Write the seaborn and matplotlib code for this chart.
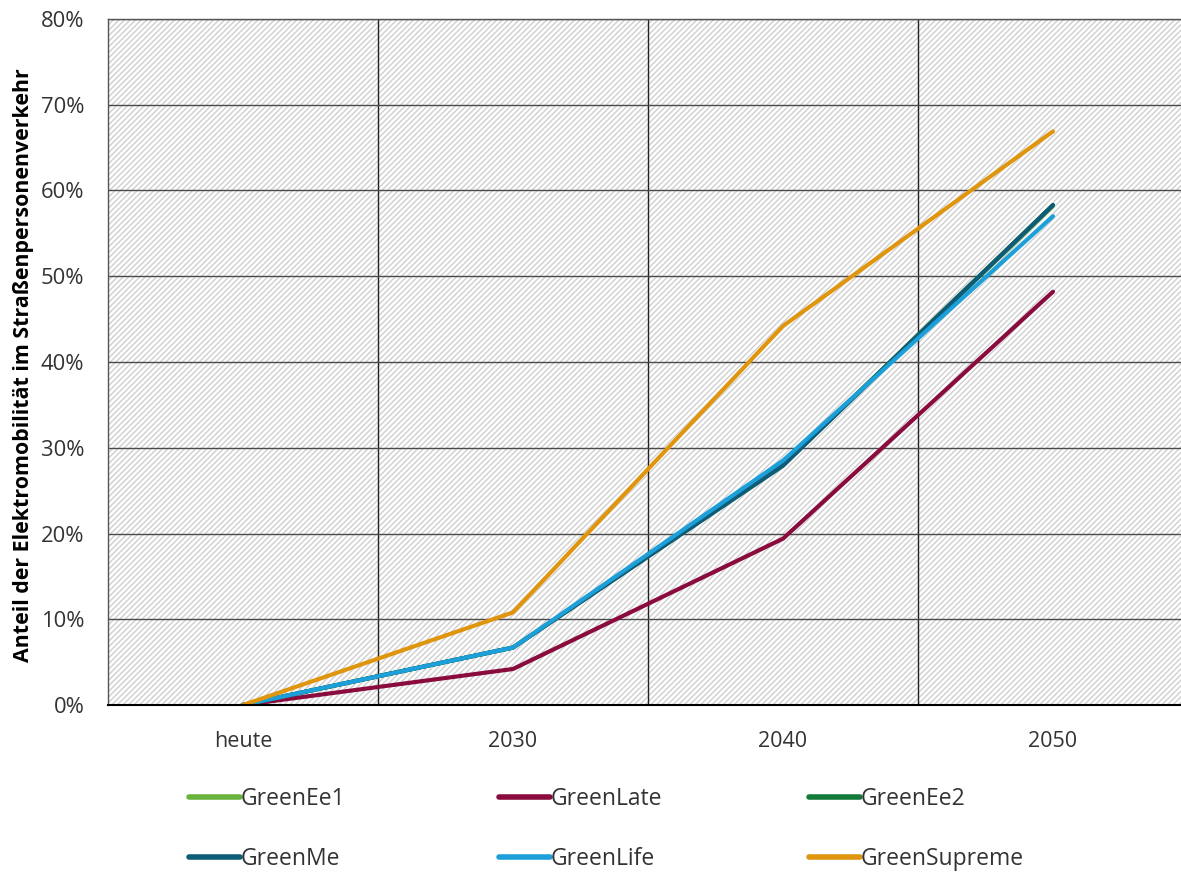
import matplotlib
matplotlib.use("Agg")
import matplotlib.pyplot as plt
from matplotlib.patches import Rectangle
from matplotlib.ticker import PercentFormatter
import seaborn as sns
import pandas as pd

categories = ["heute", "2030", "2040", "2050"]
series_names = ["GreenEe1", "GreenLate", "GreenEe2", "GreenMe", "GreenLife", "GreenSupreme"]
green_ee1 = [0.0, 6.7, 28.0, 58.2]
green_late = [0.0, 4.2, 19.4, 48.2]
green_ee2 = [0.0, 6.7, 28.0, 58.3]
green_me = [0.0, 6.7, 27.9, 58.3]
green_life = [0.0, 6.7, 28.5, 57.0]
green_supreme = [0.0, 10.8, 44.2, 66.9]
colors = ["#6ab43e", "#8a0c3e", "#137a3a", "#0f5c78", "#1d9fd9", "#e0950f"]

values = [green_ee1, green_late, green_ee2, green_me, green_life, green_supreme]
rows = []
for name, vals in zip(series_names, values):
    for c, v in zip(categories, vals):
        rows.append({"Jahr": c, "Szenario": name, "Anteil": v})
df = pd.DataFrame(rows)

sns.set_style("white")
plt.rcParams["font.family"] = ["Open Sans", "DejaVu Sans"]

W, H = 1181, 873
fig = plt.figure(figsize=(W / 100, H / 100), dpi=100)
ax = fig.add_axes([108 / W, 1 - 705 / H, 1080 / W, (705 - 19) / H])

plt.rcParams["hatch.linewidth"] = 1.0
ax.add_patch(Rectangle((0, 0), 1, 1, transform=ax.transAxes, facecolor="white",
                       edgecolor="#cfcfcf", hatch="//////", linewidth=0, zorder=0))

sns.lineplot(data=df, x="Jahr", y="Anteil", hue="Szenario", hue_order=series_names,
             palette=colors, linewidth=3, solid_capstyle="round", ax=ax, sort=False)

ax.set_xlim(-0.5, 3.5)
ax.set_ylim(0, 80)
ax.set_yticks(range(0, 81, 10))
ax.yaxis.set_major_formatter(PercentFormatter(decimals=0))
ax.set_xticks(range(4))
ax.set_xticklabels(categories)
ax.set_xticks([0.5, 1.5, 2.5], minor=True)

ax.grid(axis="y", which="major", color="#4a4a4a", linewidth=1.0, zorder=1)
ax.grid(axis="x", which="minor", color="#222222", linewidth=1.0, zorder=1)
ax.grid(axis="x", which="major", visible=False)
ax.set_axisbelow(True)

ax.tick_params(axis="x", which="major", length=0, pad=19, labelsize=15.5, labelcolor="#333333")
ax.tick_params(axis="x", which="minor", length=9, width=1.2, color="black", direction="out")
ax.tick_params(axis="y", length=0, pad=17, labelsize=15.8, labelcolor="#333333")

ax.spines["right"].set_visible(False)
ax.spines["top"].set_color("#555555")
ax.spines["top"].set_linewidth(1.0)
ax.spines["left"].set_color("#555555")
ax.spines["left"].set_linewidth(1.0)
ax.spines["bottom"].set_color("black")
ax.spines["bottom"].set_linewidth(1.5)

ax.set_xlabel("")
ax.set_ylabel("Anteil der Elektromobilität im Straßenpersonenverkehr", fontsize=15.4,
              fontweight="bold", color="black")
ax.yaxis.set_label_coords((34 - 108) / 1080, (705 - 365) / 686)

handles, labels = ax.get_legend_handles_labels()
ax.get_legend().remove()
col_x = [180, 490, 800]
for ci in range(3):
    idx = [ci, ci + 3]
    leg = fig.legend([handles[i] for i in idx], [labels[i] for i in idx], ncol=1,
                     loc="center left", bbox_to_anchor=(col_x[ci] / W, 1 - 829 / H),
                     frameon=False, fontsize=16.5, handlelength=2.2, handletextpad=0.05,
                     labelspacing=1.55, labelcolor="#333333", borderaxespad=0)
    for lh in leg.get_lines():
        lh.set_linewidth(4)

fig.savefig("out.png", dpi=100)
